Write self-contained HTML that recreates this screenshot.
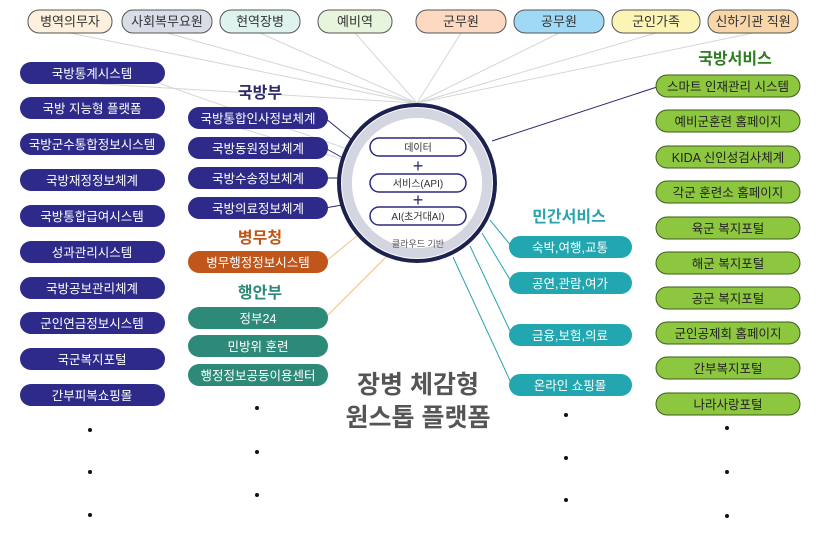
<!DOCTYPE html>
<html><head><meta charset="utf-8"><style>
body{margin:0;background:#fff}
text{font-family:"Liberation Sans","Noto Sans CJK KR",sans-serif}
</style></head><body>
<svg width="821" height="533" viewBox="0 0 821 533" xmlns="http://www.w3.org/2000/svg">
<!-- lines from top pills -->
<g stroke="#d6d6d6" stroke-width="1">
<line x1="70" y1="33" x2="417" y2="103"/><line x1="167" y1="33" x2="417" y2="103"/>
<line x1="260" y1="33" x2="417" y2="103"/><line x1="355" y1="33" x2="417" y2="103"/>
<line x1="461" y1="33" x2="417" y2="103"/><line x1="559" y1="33" x2="417" y2="103"/>
<line x1="656" y1="33" x2="417" y2="103"/><line x1="753" y1="33" x2="417" y2="103"/>
<line x1="100" y1="84" x2="417" y2="103"/><line x1="130" y1="73" x2="350" y2="150"/>
<line x1="240" y1="128" x2="345" y2="160"/>
</g>
<g stroke="#2a2a6a" stroke-width="1">
<line x1="325" y1="118" x2="352" y2="140"/><line x1="325" y1="148" x2="343" y2="158"/>
<line x1="325" y1="178" x2="340" y2="178"/><line x1="325" y1="208" x2="342" y2="205"/>
<line x1="660" y1="86" x2="492" y2="141"/>
</g>
<g stroke="#e8c48a" stroke-width="1">
<line x1="325" y1="262" x2="358" y2="235"/><line x1="325" y1="318" x2="388" y2="255"/>
</g>
<g stroke="#2aa3ae" stroke-width="1">
<line x1="512" y1="247" x2="490" y2="220"/><line x1="512" y1="283" x2="482" y2="233"/>
<line x1="512" y1="335" x2="470" y2="246"/><line x1="512" y1="385" x2="453" y2="257"/>
</g>
<!-- circle -->
<circle cx="417" cy="183" r="78" fill="#fff" stroke="#1c2150" stroke-width="4"/>
<circle cx="417" cy="183" r="70" fill="none" stroke="#d3d6e0" stroke-width="10"/>
<circle cx="417" cy="183" r="65" fill="#fff"/>
<g fill="#fff" stroke="#2b2a7a" stroke-width="1.5">
<rect x="370" y="138" width="96" height="18" rx="9"/>
<rect x="370" y="174" width="96" height="18" rx="9"/>
<rect x="370" y="207" width="96" height="18" rx="9"/>
</g>
<g font-size="10" fill="#333" text-anchor="middle">
<text x="418" y="151">데이터</text><text x="418" y="187">서비스(API)</text><text x="418" y="220">AI(초거대AI)</text>
<text x="418" y="247" font-size="9" fill="#555">클라우드 기반</text>
</g>
<g font-size="18" fill="#2b2a7a" text-anchor="middle"><text x="418" y="172">+</text><text x="418" y="206">+</text></g>
<!-- top pills -->
<g stroke="#555" stroke-width="1">
<rect x="28" y="10" width="84" height="23" rx="11" fill="#fdf0dc"/>
<rect x="122" y="10" width="90" height="23" rx="11" fill="#d9dde8"/>
<rect x="220" y="10" width="80" height="23" rx="11" fill="#dff3ee"/>
<rect x="318" y="10" width="74" height="23" rx="11" fill="#e6f5dc"/>
<rect x="416" y="10" width="90" height="23" rx="11" fill="#fcd9c0"/>
<rect x="514" y="10" width="90" height="23" rx="11" fill="#9fd9f5"/>
<rect x="612" y="10" width="88" height="23" rx="11" fill="#fbf4b5"/>
<rect x="708" y="10" width="90" height="23" rx="11" fill="#f8d6a8"/>
</g>
<g font-size="13" fill="#333" text-anchor="middle">
<text x="70" y="26">병역의무자</text><text x="167" y="26">사회복무요원</text><text x="260" y="26">현역장병</text>
<text x="355" y="26">예비역</text><text x="461" y="26">군무원</text><text x="559" y="26">공무원</text>
<text x="656" y="26">군인가족</text><text x="753" y="26">신하기관 직원</text>
</g>
<!-- left column -->
<g fill="#2e2a8a">
<rect x="20" y="62" width="145" height="22" rx="11"/><rect x="20" y="97" width="145" height="22" rx="11"/>
<rect x="20" y="133" width="145" height="22" rx="11"/><rect x="20" y="169" width="145" height="22" rx="11"/>
<rect x="20" y="205" width="145" height="22" rx="11"/><rect x="20" y="241" width="145" height="22" rx="11"/>
<rect x="20" y="277" width="145" height="22" rx="11"/><rect x="20" y="312" width="145" height="22" rx="11"/>
<rect x="20" y="348" width="145" height="22" rx="11"/><rect x="20" y="384" width="145" height="22" rx="11"/>
<rect x="188" y="107" width="140" height="22" rx="11"/><rect x="188" y="137" width="140" height="22" rx="11"/>
<rect x="188" y="167" width="140" height="22" rx="11"/><rect x="188" y="197" width="140" height="22" rx="11"/>
</g>
<rect x="188" y="251" width="140" height="22" rx="11" fill="#c0561a"/>
<g fill="#2e8a78"><rect x="188" y="307" width="140" height="22" rx="11"/><rect x="188" y="335" width="140" height="22" rx="11"/><rect x="188" y="364" width="140" height="22" rx="11"/></g>
<g font-size="12.5" fill="#fff" text-anchor="middle">
<text x="92" y="78">국방통계시스템</text><text x="92" y="113">국방 지능형 플랫폼</text>
<text x="92" y="149">국방군수통합정보시스템</text><text x="92" y="185">국방재정정보체계</text>
<text x="92" y="221">국방통합급여시스템</text><text x="92" y="257">성과관리시스템</text>
<text x="92" y="293">국방공보관리체계</text><text x="92" y="328">군인연금정보시스템</text>
<text x="92" y="364">국군복지포털</text><text x="92" y="400">간부피복쇼핑몰</text>
<text x="258" y="123">국방통합인사정보체계</text><text x="258" y="153">국방동원정보체계</text>
<text x="258" y="183">국방수송정보체계</text><text x="258" y="213">국방의료정보체계</text>
<text x="258" y="267">병무행정정보시스템</text>
<text x="258" y="323">정부24</text><text x="258" y="351">민방위 훈련</text><text x="258" y="380">행정정보공동이용센터</text>
</g>
<g font-size="16" font-weight="bold" text-anchor="middle">
<text x="260" y="98" fill="#2e2a6a">국방부</text>
<text x="260" y="243" fill="#c0561a">병무청</text>
<text x="260" y="298" fill="#2e8a78">행안부</text>
<text x="569" y="222" fill="#2aa3ae">민간서비스</text>
<text x="735" y="64" fill="#2e7d1e">국방서비스</text>
</g>
<!-- mid-right teal -->
<g fill="#22a7b0">
<rect x="509" y="236" width="123" height="22" rx="11"/><rect x="509" y="272" width="123" height="22" rx="11"/>
<rect x="509" y="324" width="123" height="22" rx="11"/><rect x="509" y="374" width="123" height="22" rx="11"/>
</g>
<g font-size="12.5" fill="#fff" text-anchor="middle">
<text x="570" y="252">숙박,여행,교통</text><text x="570" y="288">공연,관람,여가</text>
<text x="570" y="340">금융,보험,의료</text><text x="570" y="390">온라인 쇼핑몰</text>
</g>
<!-- right green -->
<g fill="#8dc63f" stroke="#3d5e1a" stroke-width="1">
<rect x="656" y="75" width="144" height="22" rx="11"/><rect x="656" y="110" width="144" height="22" rx="11"/>
<rect x="656" y="146" width="144" height="22" rx="11"/><rect x="656" y="181" width="144" height="22" rx="11"/>
<rect x="656" y="217" width="144" height="22" rx="11"/><rect x="656" y="252" width="144" height="22" rx="11"/>
<rect x="656" y="287" width="144" height="22" rx="11"/><rect x="656" y="322" width="144" height="22" rx="11"/>
<rect x="656" y="357" width="144" height="22" rx="11"/><rect x="656" y="393" width="144" height="22" rx="11"/>
</g>
<g font-size="12.5" fill="#222" text-anchor="middle">
<text x="728" y="91">스마트 인재관리 시스템</text><text x="728" y="126">예비군훈련 홈페이지</text>
<text x="728" y="162">KIDA 신인성검사체계</text><text x="728" y="197">각군 훈련소 홈페이지</text>
<text x="728" y="233">육군 복지포털</text><text x="728" y="268">해군 복지포털</text>
<text x="728" y="303">공군 복지포털</text><text x="728" y="338">군인공제회 홈페이지</text>
<text x="728" y="373">간부복지포털</text><text x="728" y="409">나라사랑포털</text>
</g>
<g font-size="25" font-weight="bold" fill="#555" text-anchor="middle">
<text x="418" y="393">장병 체감형</text><text x="418" y="426">원스톱 플랫폼</text>
</g>
<g fill="#111">
<circle cx="90" cy="430" r="2"/><circle cx="90" cy="472" r="2"/><circle cx="90" cy="515" r="2"/>
<circle cx="257" cy="408" r="2"/><circle cx="257" cy="452" r="2"/><circle cx="257" cy="495" r="2"/>
<circle cx="566" cy="415" r="2"/><circle cx="566" cy="458" r="2"/><circle cx="566" cy="500" r="2"/>
<circle cx="727" cy="428" r="2"/><circle cx="727" cy="472" r="2"/><circle cx="727" cy="516" r="2"/>
</g>
</svg>
</body></html>
